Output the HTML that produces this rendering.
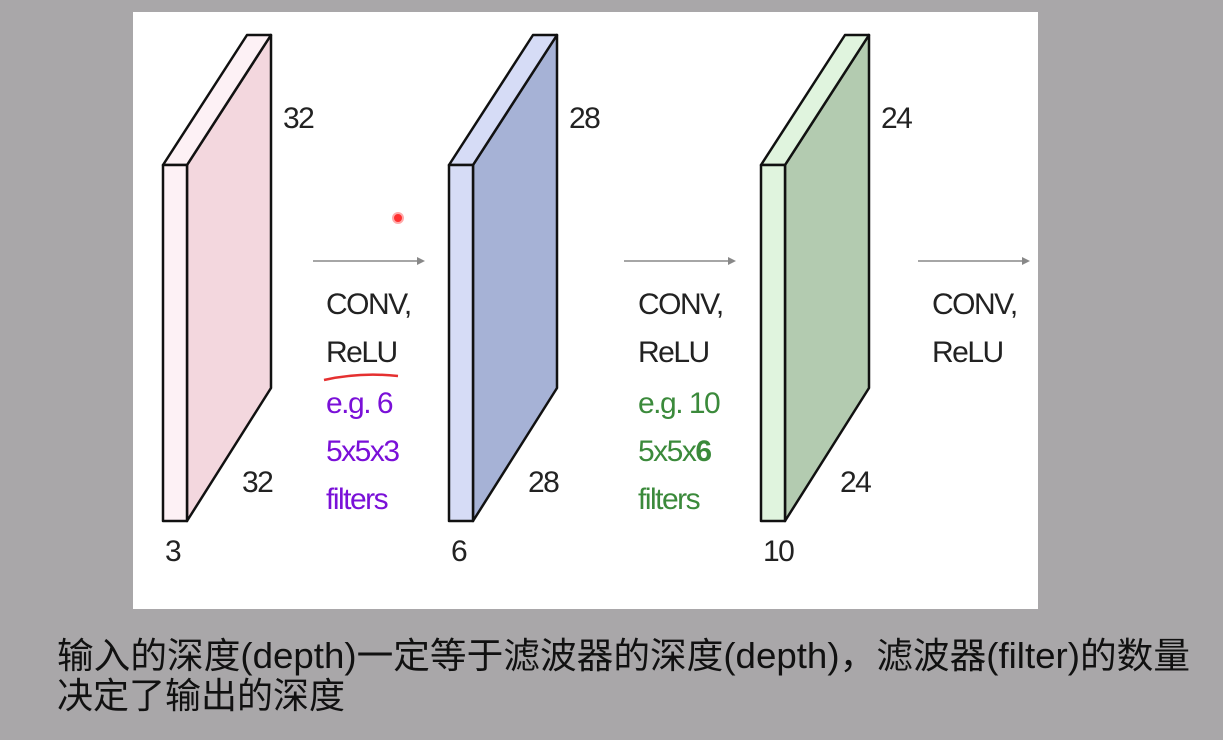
<!DOCTYPE html>
<html><head><meta charset="utf-8"><style>
body{margin:0;width:1223px;height:740px;background:#a9a7a9;overflow:hidden;font-family:"Liberation Sans","Noto Sans CJK SC",sans-serif}
</style></head><body>
<svg width="1223" height="740" style="position:absolute;left:0;top:0">
<rect x="133" y="12" width="905" height="597" fill="#ffffff"/>
<g id="slabs"></g>
<g id="arrows"></g>
<g font-family="Liberation Sans, sans-serif" font-size="30" fill="#222" style="letter-spacing:-1.5px">
<g>
<text x="326" y="314">CONV,</text><text x="326" y="362">ReLU</text>
<path d="M324 380 Q360 372 398 376" stroke="#e53030" stroke-width="2.5" fill="none"/>
<text x="326" y="413" fill="#7a10d8">e.g. 6</text><text x="326" y="461" fill="#7a10d8">5x5x3</text><text x="326" y="509" fill="#7a10d8">filters</text>
</g>
<g>
<text x="638" y="314">CONV,</text><text x="638" y="362">ReLU</text>
<text x="638" y="413" fill="#3b8a3b">e.g. 10</text><text x="638" y="461" fill="#3b8a3b">5x5x<tspan font-weight="bold">6</tspan></text><text x="638" y="509" fill="#3b8a3b">filters</text>
</g>
<g>
<text x="932" y="314">CONV,</text><text x="932" y="362">ReLU</text>
</g>
</g>
<circle cx="398" cy="218" r="5" fill="#ff3030" stroke="#ffaaaa" stroke-width="2"/>
<g font-size="36" fill="#111">
<text x="57" y="668" textLength="1133" lengthAdjust="spacingAndGlyphs">输入的深度(depth)一定等于滤波器的深度(depth)，滤波器(filter)的数量</text>
<text x="57" y="708">决定了输出的深度</text>
</g>
</svg>
<script>
const depths=["3","6","10"];
const sizes=["32","28","24"];
const frontX=[163,449,761];
const sideColors=["#f3d7de","#a6b2d6","#b3cbb0"];
const frontColors=["#fdf1f5","#d6dcf6","#e0f4de"];
const ns="http://www.w3.org/2000/svg";
const g=document.getElementById('slabs');
function mk(t,a){const e=document.createElementNS(ns,t);for(const k in a)e.setAttribute(k,a[k]);return e;}
depths.forEach((d,i)=>{
 const x=frontX[i],w=24,dx=84,top=165,bot=521,dy=130;
 const grp=mk('g',{});
 
 
 const st={stroke:'#111','stroke-width':2.5,'stroke-linejoin':'round'};
 grp.appendChild(mk('polygon',Object.assign({points:`${x+w},${top} ${x+w+dx},${top-dy} ${x+w+dx},${bot-dy-3} ${x+w},${bot}`,fill:sideColors[i]},st)));
 grp.appendChild(mk('polygon',Object.assign({points:`${x},${top} ${x+dx},${top-dy} ${x+w+dx},${top-dy} ${x+w},${top}`,fill:frontColors[i]},st)));
 grp.appendChild(mk('rect',Object.assign({x:x,y:top,width:w,height:bot-top,fill:frontColors[i]},st)));
 const t1=mk('text',{x:x+w+dx+12,y:128,'font-size':30,fill:'#222'});t1.textContent=sizes[i];
 const t2=mk('text',{x:x+w+55,y:492,'font-size':30,fill:'#222'});t2.textContent=sizes[i];
 const t3=mk('text',{x:x+2,y:561,'font-size':30,fill:'#222'});t3.textContent=d;
 [t1,t2,t3].forEach(t=>{t.setAttribute('style','letter-spacing:-1.5px');grp.appendChild(t);});
 g.appendChild(grp);
});
const arrowX=[313,624,918];
const ag=document.getElementById('arrows');
arrowX.forEach((x,i)=>{
 const a=mk('g',{});
 
 
 a.appendChild(mk('line',{x1:x,y1:261,x2:x+108,y2:261,stroke:'#888','stroke-width':1.5}));
 a.appendChild(mk('polygon',{points:`${x+112},261 ${x+104},257 ${x+104},265`,fill:'#888'}));
 ag.appendChild(a);
});
</script>
</body></html>
